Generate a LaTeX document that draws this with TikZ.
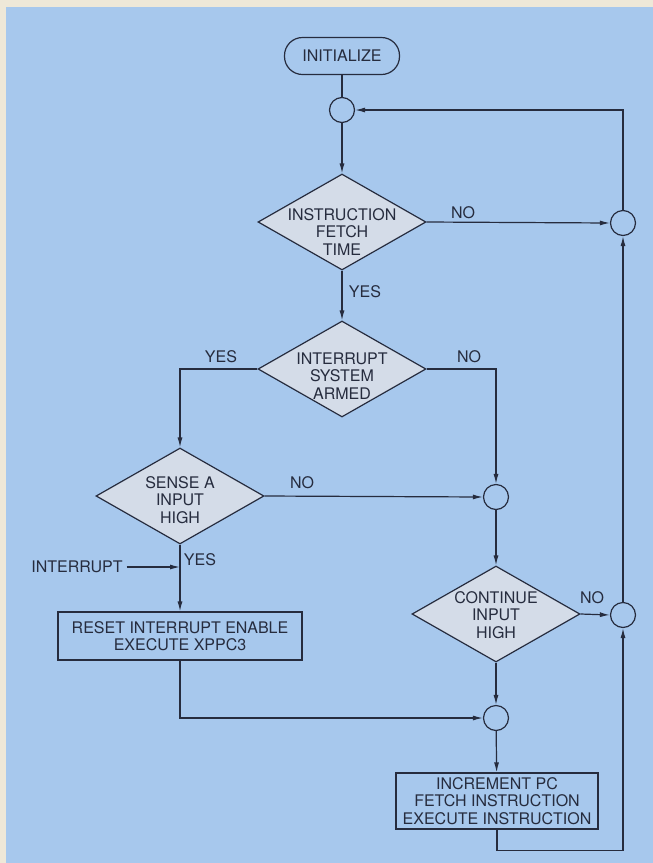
\documentclass[tikz,border=0pt]{standalone}
\usepackage{fontspec}
\setmainfont{TeX Gyre Heros}
\usetikzlibrary{arrows.meta,shapes.geometric}
\definecolor{paper}{RGB}{238,232,216}
\definecolor{sheet}{RGB}{167,200,237}
\definecolor{ink}{RGB}{38,44,62}
\definecolor{diafill}{RGB}{212,220,232}

\begin{document}
\begin{tikzpicture}[x=1pt, y=-1pt, color=ink, line width=1.2pt, every node/.style={font=\fontsize{16}{17.5}\selectfont, align=center}, terminal/.style={draw, rounded corners=18pt, minimum width=115pt, minimum height=37pt}, joint/.style={circle, draw, minimum size=25pt, inner sep=0pt}, decision/.style={diamond, draw, fill=diafill, minimum width=168pt, minimum height=96pt, inner sep=0pt}, box/.style={draw, minimum width=244pt, minimum height=48pt, inner sep=0pt}, arrow/.style={-{Latex[length=10pt,width=5pt]}}]
\useasboundingbox (0,0) rectangle (653,863);
\fill[paper] (0,0) rectangle (653,863);
\fill[sheet] (6,7) rectangle (653,863);
\node[terminal] (init) at (342,56) {INITIALIZE};
\node[joint] (c1) at (342,110) {};
\node[decision, label={[yshift=-10pt]center:INSTRUCTION\\FETCH\\TIME}] (fetch) at (342,222) {};
\node[joint] (c2) at (623,223) {};
\node[decision, label={[yshift=-7pt]center:INTERRUPT\\SYSTEM\\ARMED}] (armed) at (342,369) {};
\node[decision, label={[yshift=-4pt]center:SENSE A\\INPUT\\HIGH}] (sense) at (180,496) {};
\node[joint] (c3) at (496,497) {};
\node[decision, label={[yshift=-1pt]center:CONTINUE\\INPUT\\HIGH}] (cont) at (496,614) {};
\node[joint] (c4) at (623,615) {};
\node[box] (reset) at (180,636) {RESET INTERRUPT ENABLE\\EXECUTE XPPC3};
\node[joint] (c5) at (496,718) {};
\node[box, minimum width=202pt, minimum height=56pt] (exec) at (497,801) {INCREMENT PC\\FETCH INSTRUCTION\\EXECUTE INSTRUCTION};
\node (irq) at (77,567) {INTERRUPT};
\node (no1) at (463,213) {NO}; \node (yes1) at (365,292) {YES};
\node (yes2) at (221,357) {YES}; \node (no2) at (469,357) {NO};
\node (no3) at (302,483) {NO}; \node (yes3) at (200,560) {YES};
\node (no4) at (592,598) {NO};
\draw (init)--(c1); \draw[arrow] (c1)--(fetch); \draw[arrow] (fetch.east)--(c2.west); \draw[arrow] (fetch)--(armed);
\draw[arrow] (armed.west)-|(sense.north); \draw[arrow] (armed.east)-|(c3.north); \draw[arrow] (sense.east)--(c3.west);
\draw[arrow] (c3)--(cont); \draw[arrow] (cont.east)--(c4.west); \draw[arrow] (c4)--(c2); \draw[arrow] (c2.north)|-(c1.east);
\draw[arrow] (sense)--(reset); \draw[arrow] (irq.east)--(irq.east -| sense.south);
\draw[arrow] (reset.south)|-(c5.west); \draw[arrow] (cont)--(c5); \draw[arrow] (c5)--(exec);
\draw[arrow] (exec.south)--++(0,21)-|(c4.south);
\end{tikzpicture}
\end{document}
